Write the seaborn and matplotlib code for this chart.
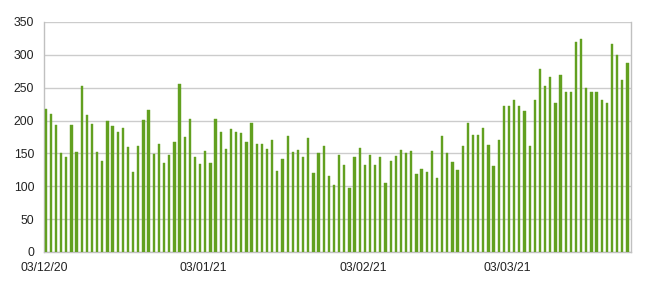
import matplotlib
matplotlib.use("Agg")
import matplotlib.pyplot as plt
import seaborn as sns
import pandas as pd

dates = pd.date_range("2020-12-03", periods=114, freq="D")
values = [
    217, 210, 193, 150, 145, 193, 152, 252, 208, 195, 152, 138, 199, 191, 183,
    189, 160, 121, 161, 201, 216, 149, 165, 135, 148, 167, 256, 175, 202, 145,
    134, 154, 136, 202, 183,
    156, 187, 183, 181, 168, 196, 165, 164, 156, 170, 124, 142, 176, 152, 155,
    144, 174, 120, 150, 162, 115, 102, 148, 132, 97, 145, 158, 133, 147, 132,
    144, 105, 139, 146, 155, 151, 153, 118,
    126, 122, 154, 113, 177, 151, 137, 125, 162, 197, 178, 178, 188, 163, 131,
    171, 222, 222, 232, 222, 214, 161, 231, 278, 253, 266, 226, 270, 243, 243,
    319, 324, 249, 244, 243, 232, 227, 317, 300, 261, 288,
]
tick_dates = ["03/12/20", "03/01/21", "03/02/21", "03/03/21"]
y_ticks = [0, 50, 100, 150, 200, 250, 300, 350]

df = pd.DataFrame({"date": dates.strftime("%d/%m/%y"), "value": values})

sns.set_style("white")
plt.rcParams["font.family"] = ["Liberation Sans", "DejaVu Sans"]

fig = plt.figure(figsize=(6.5, 2.86), dpi=100)
ax = fig.add_axes([44 / 650, 1 - 252 / 286, (631 - 44) / 650, (252 - 22) / 286])

sns.barplot(data=df, x="date", y="value", color="#62a020", saturation=1,
            width=0.44, ax=ax, zorder=3, edgecolor="#62a020", linewidth=0.3)

off = 0.32
n = len(values)
ax.set_xlim(-off, n - off)
ax.set_ylim(0, 350)
ax.set_yticks(y_ticks)
ax.set_yticklabels([str(v) for v in y_ticks])

tick_pos = [list(df["date"]).index(t) - off for t in tick_dates]
ax.set_xticks(tick_pos)
ax.set_xticklabels(tick_dates)

ax.grid(axis="y", color="#cccccc", linewidth=1, zorder=0)
ax.set_axisbelow(True)
for s in ["left", "right", "bottom", "top"]:
    ax.spines[s].set_color("#c0c0c0")
    ax.spines[s].set_linewidth(1)
ax.spines["top"].set_visible(False)

ax.tick_params(axis="both", colors="#c0c0c0", labelcolor="#222222",
               labelsize=8.8, length=4, width=1, direction="out")
ax.tick_params(axis="y", pad=3)
ax.tick_params(axis="x", pad=3)
ax.set_xlabel("")
ax.set_ylabel("")

fig.savefig("out.png", dpi=100)
